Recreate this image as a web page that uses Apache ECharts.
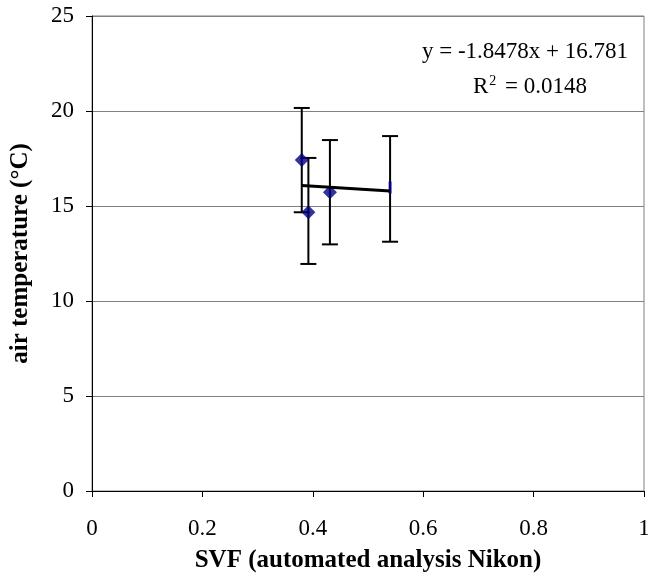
<!DOCTYPE html>
<html>
<head>
<meta charset="utf-8">
<script src="https://cdn.jsdelivr.net/npm/echarts@6/dist/echarts.min.js"></script>
<style>
  html, body { margin: 0; padding: 0; background: #fff; }
  #chart { width: 648px; height: 584px; }
</style>
</head>
<body>
<div id="chart"></div>
<script>
// Sky view factor vs. mean air temperature with ± error ranges
const svf = [0.380, 0.392, 0.431, 0.540];
const temperature = [17.42, 14.67, 15.72, 15.97];
const errLow = [14.67, 11.95, 12.98, 13.12];
const errHigh = [20.16, 17.53, 18.47, 18.68];

// Linear trend fitted to the points
const slope = -1.8478;
const intercept = 16.781;
const r2 = 0.0148;

const xTicks = [0, 0.2, 0.4, 0.6, 0.8, 1];
const yTicks = [0, 5, 10, 15, 20, 25];

const serif = '"Liberation Serif", "Times New Roman", serif';

const xMin = Math.min(...svf), xMax = Math.max(...svf);
const trend = [[xMin, slope * xMin + intercept], [xMax, slope * xMax + intercept]];

const chart = echarts.init(document.getElementById('chart'));
chart.setOption({
  animation: false,
  backgroundColor: '#ffffff',
  grid: {
    left: 92, right: 4, top: 16, bottom: 93,
    containLabel: false, outerBoundsMode: 'none',
    show: true, borderColor: '#808080', borderWidth: 1, backgroundColor: 'transparent'
  },
  xAxis: {
    type: 'value', min: xTicks[0], max: xTicks[xTicks.length - 1], interval: 0.2,
    name: 'SVF (automated analysis Nikon)', nameLocation: 'middle', nameGap: 57,
    nameTextStyle: { fontFamily: serif, fontSize: 25, fontWeight: 'bold', color: '#000' },
    axisLine: { onZero: false, lineStyle: { color: '#000', width: 1 } },
    axisTick: { show: true, length: 6, lineStyle: { color: '#000' } },
    axisLabel: { fontFamily: serif, fontSize: 23, color: '#000', margin: 26 },
    splitLine: { show: false }
  },
  yAxis: {
    type: 'value', min: yTicks[0], max: yTicks[yTicks.length - 1], interval: 5,
    name: 'air temperature (°C)', nameLocation: 'middle', nameGap: 59,
    nameTextStyle: { fontFamily: serif, fontSize: 25, fontWeight: 'bold', color: '#000' },
    axisLine: { show: true, lineStyle: { color: '#000', width: 1 } },
    axisTick: { show: true, length: 6, lineStyle: { color: '#000' } },
    axisLabel: { fontFamily: serif, fontSize: 23, color: '#000', margin: 18 },
    splitLine: { show: true, lineStyle: { color: '#808080', width: 1 } }
  },
  series: [
    {
      // vertical error bars with caps
      type: 'custom',
      z: 3,
      data: svf.map((x, i) => [x, errLow[i], errHigh[i]]),
      renderItem: function (params, api) {
        const lo = api.coord([api.value(0), api.value(1)]);
        const hi = api.coord([api.value(0), api.value(2)]);
        const cap = 8;
        const style = { stroke: '#000', lineWidth: 2 };
        return {
          type: 'group',
          children: [
            { type: 'line', shape: { x1: lo[0], y1: lo[1], x2: hi[0], y2: hi[1] }, style: style },
            { type: 'line', shape: { x1: lo[0] - cap, y1: lo[1], x2: lo[0] + cap, y2: lo[1] }, style: style },
            { type: 'line', shape: { x1: hi[0] - cap, y1: hi[1], x2: hi[0] + cap, y2: hi[1] }, style: style }
          ]
        };
      }
    },
    {
      type: 'scatter',
      z: 4,
      symbol: 'diamond',
      symbolSize: 14,
      itemStyle: { color: '#000080' },
      data: svf.slice(0, 3).map((x, i) => [x, temperature[i]])
    },
    {
      type: 'scatter',
      z: 4,
      symbol: 'rect',
      symbolSize: [3, 12],
      itemStyle: { color: '#0000a0' },
      data: [[svf[3], temperature[3]]]
    },
    {
      type: 'line',
      z: 5,
      symbol: 'none',
      lineStyle: { color: '#000', width: 3 },
      data: trend
    }
  ],
  graphic: [
    {
      type: 'text',
      style: {
        x: 525, y: 52, text: 'y = -1.8478x + 16.781', align: 'center', verticalAlign: 'middle',
        font: '23px ' + serif, fill: '#000'
      }
    },
    {
      type: 'text',
      style: {
        x: 530, y: 87, align: 'center', verticalAlign: 'middle',
        rich: {
          n: { fontFamily: serif, fontSize: 23, color: '#000' },
          s: { fontFamily: serif, fontSize: 14, color: '#000', verticalAlign: 'top', padding: [0, 3, 12, 1] }
        },
        text: '{n|R}{s|2}{n| = ' + r2.toFixed(4) + '}'
      }
    }
  ]
});
</script>
</body>
</html>
